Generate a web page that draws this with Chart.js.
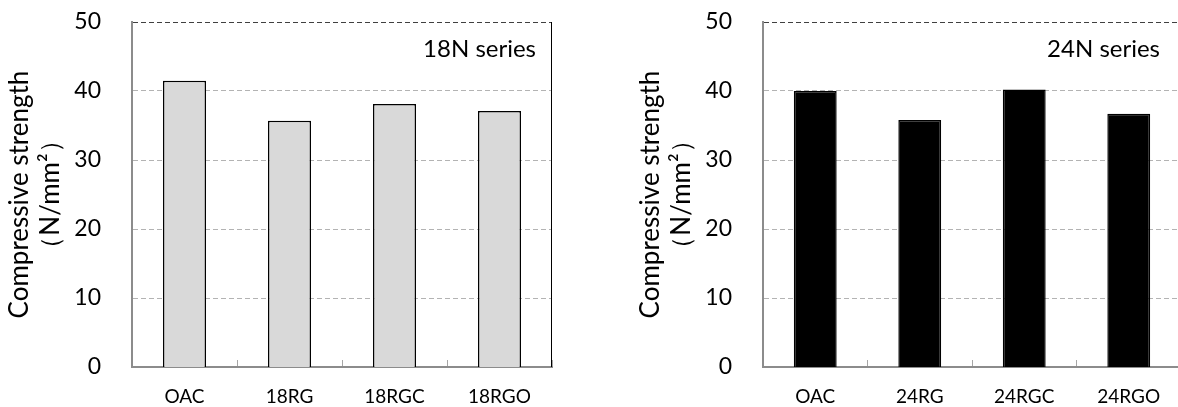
<!DOCTYPE html>
<html>
<head>
<meta charset="utf-8">
<script src="https://cdn.jsdelivr.net/npm/chart.js@4.4.0/dist/chart.umd.min.js"></script>
<style>
    html, body { margin: 0; padding: 0; background: #fff; }
    body { width: 1178px; height: 407px; overflow: hidden; position: relative; }
    canvas { position: absolute; top: 0; }
    #chart18 { left: 0; }
    #chart24 { left: 631px; }
</style>
</head>
<body>
<canvas id="chart18" width="589" height="407"></canvas>
<canvas id="chart24" width="589" height="407"></canvas>
<script>
const labels18 = ['OAC', '18RG', '18RGC', '18RGO'];
const values18 = [41.5, 35.7, 38.1, 37.1];

const labels24 = ['OAC', '24RG', '24RGC', '24RGO'];
const values24 = [40.0, 35.8, 40.2, 36.7];

const yMin = 0;
const yMax = 50;
const yStep = 10;

const axisTitle = ['Compressive strength', '（N/mm²）'];
const fontFamily = 'Lato, "Noto Sans", sans-serif';

// series label in the top right corner + right frame line
const framePlugin = {
    id: 'frame',
    afterDraw(chart, args, opts) {
        const ctx = chart.ctx;
        const area = chart.chartArea;
        ctx.save();
        ctx.strokeStyle = '#000';
        ctx.lineWidth = 1;
        ctx.beginPath();
        ctx.moveTo(Math.round(area.right) - 0.5, area.top);
        ctx.lineTo(Math.round(area.right) - 0.5, area.bottom);
        ctx.stroke();

        ctx.fillStyle = '#000';
        ctx.font = '24px ' + fontFamily;
        ctx.textAlign = 'right';
        ctx.textBaseline = 'alphabetic';
        ctx.fillText(opts.text, area.right - opts.inset, area.top + 35);
        ctx.restore();
    }
};

function makeChart(id, labels, values, fill, seriesText, inset, padRight) {
    const ctx = document.getElementById(id).getContext('2d');
    return new Chart(ctx, {
        type: 'bar',
        data: {
            labels: labels,
            datasets: [{
                data: values,
                backgroundColor: fill,
                borderColor: '#000',
                borderWidth: 1.5,
                barPercentage: 0.41,
                categoryPercentage: 1.0
            }]
        },
        options: {
            responsive: false,
            animation: false,
            devicePixelRatio: 1,
            layout: {
                padding: { top: 22, right: padRight, bottom: 0, left: 0 }
            },
            plugins: {
                legend: { display: false },
                tooltip: { enabled: false },
                frame: { text: seriesText, inset: inset }
            },
            scales: {
                x: {
                    offset: true,
                    afterFit: function(scale) {
                        scale.height = 40;
                        scale.paddingLeft = 0;
                        scale.paddingRight = 0;
                        scale.paddingTop = 0;
                        scale.paddingBottom = 0;
                    },
                    grid: {
                        display: true,
                        offset: true,
                        drawOnChartArea: false,
                        drawTicks: true,
                        tickLength: -7,
                        tickColor: '#a6a6a6',
                        tickWidth: 1
                    },
                    border: { color: '#8c8c8c', width: 2 },
                    ticks: {
                        color: '#000',
                        padding: 25,
                        maxRotation: 0,
                        font: { family: fontFamily, size: 19 }
                    }
                },
                y: {
                    min: yMin,
                    max: yMax,
                    afterFit: function(scale) {
                        scale.width = 132;
                        scale.paddingTop = 0;
                        scale.paddingBottom = 0;
                        scale.paddingLeft = 0;
                        scale.paddingRight = 0;
                    },
                    grid: {
                        drawTicks: false,
                        color: function(c) { return c.tick && c.tick.value === yMax ? '#404040' : '#b3b3b3'; },
                        lineWidth: function(c) { return c.tick && c.tick.value === yMin ? 0 : 1; }
                    },
                    border: { color: '#8c8c8c', width: 2, dash: [5, 3] },
                    ticks: {
                        stepSize: yStep,
                        color: '#000',
                        padding: 31,
                        font: { family: fontFamily, size: 23 }
                    },
                    title: {
                        display: true,
                        text: axisTitle,
                        color: '#000',
                        padding: { top: 4, bottom: 0 },
                        font: { family: fontFamily, size: 26, lineHeight: 1.2 }
                    }
                }
            }
        },
        plugins: [framePlugin]
    });
}

makeChart('chart18', labels18, values18, '#d9d9d9', '18N series', 16, 37);
makeChart('chart24', labels24, values24, '#000000', '24N series', 21, 39);
</script>
</body>
</html>
